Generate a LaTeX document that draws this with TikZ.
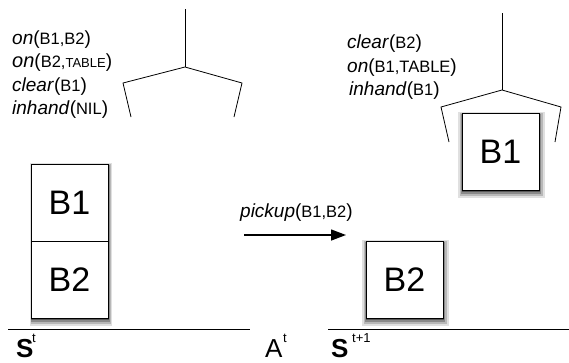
\documentclass[tikz,border=0pt]{standalone}
\usepackage{fontspec}
\setmainfont{Liberation Sans}
\usetikzlibrary{shadows,arrows.meta}

% predicate with small-size arguments
\newcommand{\argsz}{\fontsize{16.5}{16.5}\selectfont}
\newcommand{\tinyargsz}{\fontsize{13}{13}\selectfont}
\newcommand{\pred}[2]{\textit{#1}({\argsz #2})}

\tikzset{
    softshadow/.style={
        general shadow={shadow xshift=0.8pt, shadow yshift=-3pt, shadow scale=1.12, fill=black, opacity=0.12},
        general shadow={shadow xshift=0.8pt, shadow yshift=-3pt, shadow scale=1.08, fill=black, opacity=0.18},
        general shadow={shadow xshift=0.8pt, shadow yshift=-2.5pt, shadow scale=1.04, fill=black, opacity=0.25},
        general shadow={shadow xshift=0.5pt, shadow yshift=-2pt, shadow scale=1.01, fill=black, opacity=0.35}},
    stackshadow/.style={
        general shadow={shadow xshift=1.2pt, shadow yshift=-3pt, shadow scale=1.06, fill=black, opacity=0.12},
        general shadow={shadow xshift=1.2pt, shadow yshift=-3pt, shadow scale=1.04, fill=black, opacity=0.18},
        general shadow={shadow xshift=1pt, shadow yshift=-2.5pt, shadow scale=1.02, fill=black, opacity=0.25},
        general shadow={shadow xshift=0.6pt, shadow yshift=-2pt, shadow scale=1.005, fill=black, opacity=0.35}},
    plainblock/.style={draw, line width=0.8pt, fill=white, minimum size=77pt, inner sep=0pt,
        font=\fontsize{34}{34}\selectfont},
    block/.style={plainblock, softshadow},
    fact/.style={anchor=base west, inner sep=0pt, font=\fontsize{19}{19}\selectfont},
    gripper/.style={line width=0.8pt},
    ground/.style={line width=0.8pt},
    bigsym/.style={anchor=base west, inner sep=0pt, font=\fontsize{26}{26}\selectfont},
    supsym/.style={anchor=base west, inner sep=0pt, font=\fontsize{13}{13}\selectfont},
}

\begin{document}
\begin{tikzpicture}[x=1pt, y=-1pt]
    \useasboundingbox (0,0) rectangle (569,362);

    % State facts before the action
    \node[fact] (f1) at (12,44)  {\pred{on}{B1,B2}};
    \node[fact] (f2) at (12,67.5){\textit{\fontsize{20}{20}\selectfont on}({\argsz B2,\tinyargsz TABLE})};
    \node[fact] (f3) at (12,91)  {\pred{clear}{B1}};
    \node[fact] (f4) at (12,114) {\pred{inhand}{NIL}};

    % State facts after the action
    \node[fact] (g1) at (347,48) {\pred{clear}{B2}};
    \node[fact] (g2) at (347,72) {\pred{on}{B1,TABLE}};
    \node[fact] (g3) at (349,95) {\pred{inhand}{B1}};

    % Empty gripper
    \draw[gripper] (185,9) -- (185,67);
    \draw[gripper] (131,117) -- (123,83) -- (185,67) -- (242,83) -- (234,117);

    % Gripper holding B1
    \draw[gripper] (502,13) -- (502,90);
    \draw[gripper] (449,142) -- (441,107) -- (502,90) -- (561,107) -- (555,142);

    % Blocks: the stack gets one shadow for both
    \node[plainblock, stackshadow, minimum height=154pt] (stack) at (69.5,241) {};
    \node[plainblock] (b1) at (69.5,202.5) {B1};
    \node[plainblock] (b2) at (69.5,279.5) {B2};
    \node[block] (b2n) at (404.5,279.5) {B2};
    \node[block] (b1n) at (500.5,151.5) {B1};

    % Ground lines
    \draw[ground] (8,329) -- (250,329);
    \draw[ground] (328,329) -- (569,329);

    % Action arrow
    \coordinate (from) at (244,235);
    \coordinate (to) at (346,235);
    \draw[line width=1.4pt, -{Triangle[length=15pt, width=11pt]}] (from) -- (to);
    \node[fact] (act) at (240,217) {\pred{pickup}{B1,B2}};

    % Time labels
    \node[bigsym] (s0) at (16,357) {\bfseries S};
    \node[supsym] (s0t) at (32,342) {t};
    \node[bigsym] (a0) at (265,357) {A};
    \node[supsym] (a0t) at (283,342) {t};
    \node[bigsym] (s1) at (331,357) {\bfseries S};
    \node[supsym] (s1t) at (352,342) {t+1};
\end{tikzpicture}
\end{document}
